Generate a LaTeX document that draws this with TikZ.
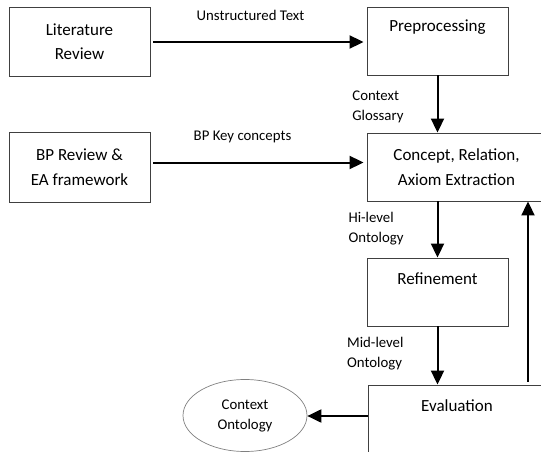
\documentclass[tikz,border=0pt]{standalone}
\usepackage{fontspec}
\setmainfont{Carlito}
\usetikzlibrary{arrows.meta,shapes.geometric}

\tikzset{
  stagebox/.style={draw=black!75, line width=0.9pt, rectangle, inner sep=0pt,
    font=\fontsize{17}{24.5}\selectfont, align=center},
  toptext/.style={anchor=center, inner sep=0pt, font=\fontsize{17}{24.5}\selectfont},
  ovalbox/.style={draw=black!50, line width=0.7pt, ellipse, inner sep=0pt,
    minimum width=124pt, minimum height=72pt, align=center,
    font=\fontsize{14.8}{20}\selectfont},
  flow/.style={line width=2pt, -{Triangle[length=14pt,width=13pt]}},
  flowlbl/.style={inner sep=0pt, align=left, font=\fontsize{14.8}{20}\selectfont},
}

\begin{document}
\begin{tikzpicture}[x=1pt,y=-1pt]
  \clip (0,0) rectangle (541,452);

  % process stages
  \node[stagebox, minimum width=141pt, minimum height=69pt] (lit) at (79.5,41.5)
    {Literature\\Review};
  \node[stagebox, minimum width=141pt, minimum height=68pt,
        label={[toptext, yshift=-21pt]north:Preprocessing}] (pre) at (437.5,41) {};
  \node[stagebox, minimum width=141pt, minimum height=70pt] (bp) at (79.5,167)
    {BP Review \&\\EA framework};
  \node[stagebox, minimum width=179pt, minimum height=68pt] (con) at (456.5,167)
    {Concept, Relation,\\Axiom Extraction};
  \node[stagebox, minimum width=141pt, minimum height=68pt,
        label={[toptext, yshift=-21pt]north:Refinement}] (ref) at (437.5,292) {};
  \node[stagebox, minimum width=178pt, minimum height=80pt,
        label={[toptext, yshift=-21pt]north:Evaluation}] (eva) at (457,425) {};
  \node[ovalbox] (ont) at (245,415.5) {Context\\Ontology};

  % connectors
  \draw[flow] ([xshift=3pt,yshift=-0.5pt]lit.east) -- ([xshift=-3pt,yshift=-0.5pt]lit.east -| pre.west)
    node[flowlbl, midway, yshift=26.5pt, xshift=-8pt] (lblA) {Unstructured Text};
  \draw[flow] ([xshift=3pt,yshift=4.5pt]bp.east) -- ([xshift=-3pt,yshift=4.5pt]bp.east -| con.west)
    node[flowlbl, midway, yshift=26pt, xshift=-16pt] (lblB) {BP Key concepts};
  \draw[flow] (pre.south) -- (pre.south |- con.north)
    node[flowlbl, midway, left=33pt, yshift=-2.5pt] (lblC) {Context\\Glossary};
  \draw[flow] (ref.north |- con.south) -- (ref.north)
    node[flowlbl, midway, left=33pt, yshift=1pt] (lblD) {Hi-level\\Ontology};
  \draw[flow] (ref.south) -- (ref.south |- eva.north)
    node[flowlbl, midway, left=33pt, yshift=1.5pt] (lblE) {Mid-level\\Ontology};
  \draw[flow] ([xshift=71pt,yshift=3pt]eva.north) -- ([xshift=71pt]eva.north |- con.south);
  \draw[flow] ([yshift=9pt]eva.west) -- ([yshift=9pt]eva.west -| ont.east);
\end{tikzpicture}
\end{document}
